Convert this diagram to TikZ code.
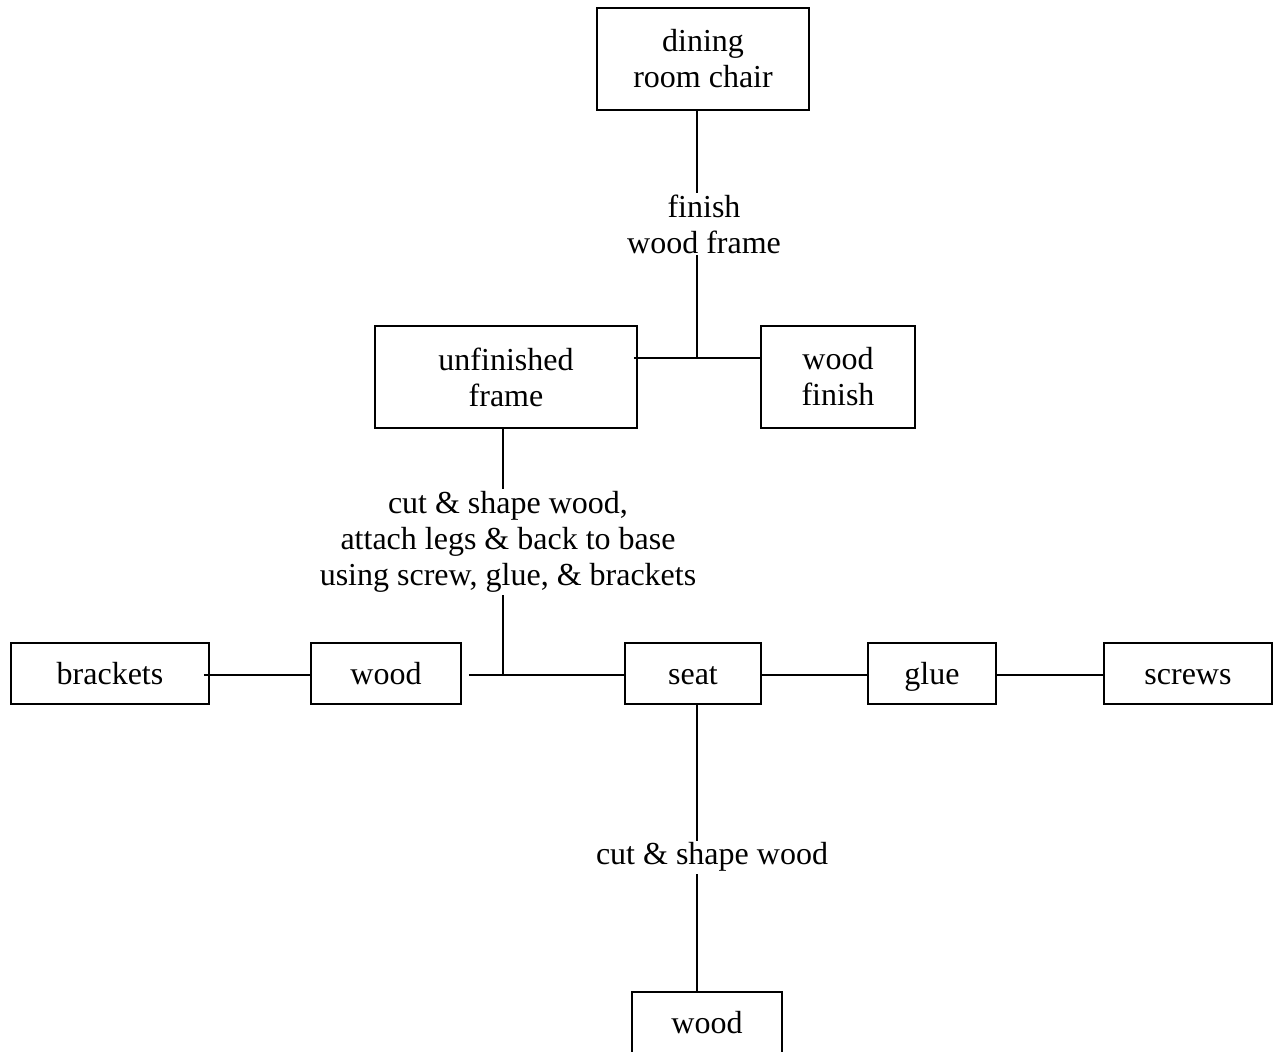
\documentclass[tikz,border=0pt]{standalone}
\usepackage{fontspec}
\setmainfont{Liberation Serif}
\usetikzlibrary{calc, positioning}

\begin{document}
\begin{tikzpicture}[
        x=0.75pt, y=-0.75pt,
        line width=1.45pt,
        every node/.style={font=\fontsize{24}{27}\selectfont, align=center},
        part/.style={draw, inner sep=0pt, minimum height=45.75pt,
                     text height=17pt, text depth=0pt},
        stage/.style={draw, inner sep=0pt, minimum height=76.5pt},
        steplabel/.style={fill=white, inner sep=1.5pt}
]
\useasboundingbox (0,0) rectangle (1273,1051);

%--- finished product and assemblies -------------------------
\node[stage, minimum width=159pt]   (chair)  at (703,59)  {dining\\room chair};
\node[stage, minimum width=196.5pt] (frame)  at (506,377) {unfinished\\frame};
\node[stage, minimum width=115.5pt] (finish) at (838,377) {wood\\finish};

%--- middle row of parts -------------------------------------
\node[part, minimum width=148.5pt] (brackets) at (110,673.5)  {brackets};
\node[part, minimum width=112.5pt] (wood)     at (386,673.5)  {wood};
\node[part, minimum width=102pt]   (seat)     at (693,673.5)  {seat};
\node[part, minimum width=96pt]    (glue)     at (932,673.5)  {glue};
\node[part, minimum width=126pt]   (screws)   at (1188,673.5) {screws};

%--- raw wood for the seat (cut off at the page edge) --------
\node[part, minimum width=112.5pt] (seatwood) at (707,1022.5) {wood};

%--- junction points -----------------------------------------
\coordinate (jtop) at (697,358);     % finishing step
\coordinate (jmid) at (503,675);     % assembly step
\coordinate (jlow) at (697,0);       % cutting step (x only)

%--- finishing -----------------------------------------------
\draw (chair.south -| jtop) -- (jtop);
\draw ([xshift=-3pt]frame.east |- jtop) -- (finish.west |- jtop);
\node[steplabel] (lfinish) at (704,224) {finish\\wood frame};

%--- assembly ------------------------------------------------
\draw (frame.south -| jmid) -- (jmid);
\draw ([xshift=5.25pt]wood.east |- jmid) -- (seat.west |- jmid);
\draw ([xshift=-4.5pt]brackets.east |- jmid) -- (wood.west |- jmid);
\draw (seat.east |- jmid) -- (glue.west |- jmid)
      (glue.east |- jmid) -- (screws.west |- jmid);
\node[steplabel] (lassemble) at (508,542)
     {cut \& shape wood,\\attach legs \& back to base\\using screw, glue, \& brackets};

%--- seat cutting --------------------------------------------
\draw (seat.south -| jlow) -- (seatwood.north -| jlow);
\node[steplabel] (lcut) at (712,857) {cut \& shape wood};

\end{tikzpicture}
\end{document}
